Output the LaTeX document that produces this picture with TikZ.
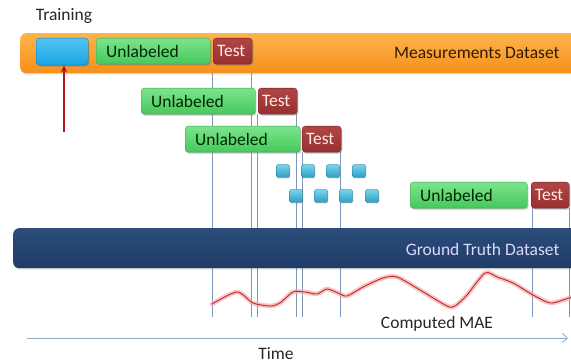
\documentclass[tikz,border=0pt]{standalone}
\usepackage{fontspec}
\setmainfont{Carlito}
\usetikzlibrary{positioning, arrows.meta, shadows, backgrounds}

\definecolor{barorange}{HTML}{F5901C}
\definecolor{barorangetop}{HTML}{FDB44A}
\definecolor{barnavy}{HTML}{1E3C66}
\definecolor{barnavytop}{HTML}{2C4C7A}
\definecolor{trainblue}{HTML}{1BA3E4}
\definecolor{trainbluetop}{HTML}{52C6F4}
\definecolor{unlgreen}{HTML}{45C95C}
\definecolor{unlgreentop}{HTML}{7DE38C}
\definecolor{testred}{HTML}{983030}
\definecolor{testredtop}{HTML}{B04545}
\definecolor{cubeblue}{HTML}{2A9FC4}
\definecolor{cubebluetop}{HTML}{7AD4EE}
\definecolor{guideblue}{HTML}{7E97B8}
\definecolor{axisblue}{HTML}{8EA8C8}
\definecolor{maered}{HTML}{C4262C}
\definecolor{maeglow}{HTML}{F4A8A8}
\definecolor{arrowred}{HTML}{B0161E}

\begin{document}
\begin{tikzpicture}[
            x=1pt, y=-1pt,
            every node/.style = {font=\fontsize{17.5}{20}\selectfont},
            bar/.style = {rectangle, rounded corners=6pt, anchor=north west, minimum width=590pt, minimum height=40pt, drop shadow={shadow xshift=1pt, shadow yshift=-1.5pt, opacity=0.25}},
            box/.style = {rectangle, rounded corners=3pt, anchor=north west, inner ysep=0pt, minimum height=26pt, align=left, drop shadow={shadow xshift=1.2pt, shadow yshift=-1.5pt, opacity=0.45}},
            unl/.style = {box, top color=unlgreentop, bottom color=unlgreen, draw=unlgreen!80!black, line width=0.3pt, text=black!85!green, inner xsep=10pt, text width=#1},
            testbox/.style = {box, top color=testredtop, bottom color=testred, draw=testred!70!black, line width=0.3pt, text=white!92!red, inner xsep=4pt, text width=#1},
            cube/.style = {rectangle, rounded corners=2pt, minimum size=13pt, inner sep=0pt, top color=cubebluetop, bottom color=cubeblue, draw=cubeblue!70!black, line width=0.3pt, drop shadow={shadow xshift=0.8pt, shadow yshift=-1pt, opacity=0.35}},
            guide/.style = {draw=guideblue, line width=0.6pt},
        ]

            \useasboundingbox (0,0) rectangle (571,363);
            \clip (0,0) rectangle (571,363);

            % Datasets
            \node[bar, top color=barorangetop, bottom color=barorange] (meas) at (20,33) {};
            \node[bar, top color=barnavytop, bottom color=barnavy] (truth) at (13,228) {};
            \node[anchor=east, text=black!80!orange] (measlabel) at (563,53) {Measurements Dataset};
            \node[anchor=east, text=white!85!blue] (truthlabel) at (563,249) {Ground Truth Dataset};

            % Training window
            \node[box, top color=trainbluetop, bottom color=trainblue, draw=trainblue!70!black, line width=0.3pt, minimum width=52pt, minimum height=27pt] (train) at (36,38) {};
            \node[text=black!85] (trainlabel) at (64,16) {Training};

            % Unlabeled / test windows
            \node[unl=94pt] (unl1) at (96,38) {Unlabeled};
            \node[testbox=31pt] (test1) at (213,38) {Test};
            \node[unl=94pt] (unl2) at (141,88) {Unlabeled};
            \node[testbox=31pt] (test2) at (258,88) {Test};
            \node[unl=95pt] (unl3) at (185,126) {Unlabeled};
            \node[testbox=31pt] (test3) at (302,126) {Test};
            \node[unl=97pt] (unl4) at (410,182) {Unlabeled};
            \node[testbox=30pt] (test4) at (531,182) {Test};

            % Intermediate windows
            \node[cube] (cube1) at (283,171) {};
            \node[cube] (cube2) at (308,171) {};
            \node[cube] (cube3) at (333,171) {};
            \node[cube] (cube4) at (359,171) {};
            \node[cube] (cube5) at (296,196) {};
            \node[cube] (cube6) at (321,196) {};
            \node[cube] (cube7) at (346,196) {};
            \node[cube] (cube8) at (372,196) {};

            % Test window boundaries
            \coordinate (guidebot) at (0,317);
            \begin{scope}[on background layer]
                \draw[guide] ([xshift=-1pt]test1.south west) -- ([xshift=-1pt]test1.south west |- guidebot);
                \draw[guide] ([xshift=-1pt]test1.south east) -- ([xshift=-1pt]test1.south east |- guidebot);
                \draw[guide] ([xshift=-1pt]test2.south west) -- ([xshift=-1pt]test2.south west |- guidebot);
                \draw[guide] ([xshift=-1pt]test2.south east) -- ([xshift=-1pt]test2.south east |- guidebot);
                \draw[guide] (test3.south west) -- (test3.south west |- guidebot);
                \draw[guide] ([xshift=-1pt]test3.south east) -- ([xshift=-1pt]test3.south east |- guidebot);
                \draw[guide] ([xshift=1pt]test4.south west) -- ([xshift=1pt]test4.south west |- guidebot);
                \draw[guide] (test4.south east) -- (test4.south east |- guidebot);
            \end{scope}

            % Training arrow
            \coordinate (trainfoot) at (64,132);
            \draw[arrowred, line width=1.3pt, -{Stealth[length=7pt, width=6pt]}] (trainfoot) -- (train.south -| trainfoot);

            % Computed MAE
            \draw[maeglow, line width=4.5pt, line cap=round, opacity=0.7] plot[smooth, tension=0.45] coordinates {(212,304) (237,292) (253,303) (270,306) (280,303) (293,292) (305,292) (317,294) (327,289) (338,293) (347,296) (363,287) (383,278) (397,277) (420,290) (447,306) (455,306) (467,295) (485,273) (497,277) (513,283) (533,295) (550,303) (563,300) (575,296)};
            \draw[maered, line width=0.9pt] plot[smooth, tension=0.45] coordinates {(212,304) (237,292) (253,303) (270,306) (280,303) (293,292) (305,292) (317,294) (327,289) (338,293) (347,296) (363,287) (383,278) (397,277) (420,290) (447,306) (455,306) (467,295) (485,273) (497,277) (513,283) (533,295) (550,303) (563,300) (575,296)};
            \node[text=black!85] (maelabel) at (437,324) {Computed MAE};

            % Time axis
            \coordinate (time0) at (27,338);
            \coordinate (time1) at (568,338);
            \draw[axisblue, line width=0.8pt, -{Straight Barb[length=5pt, width=9pt]}] (time0) -- (time1);
            \node[text=black!85] (timelabel) at (276,354) {Time};

        \end{tikzpicture}
\end{document}
